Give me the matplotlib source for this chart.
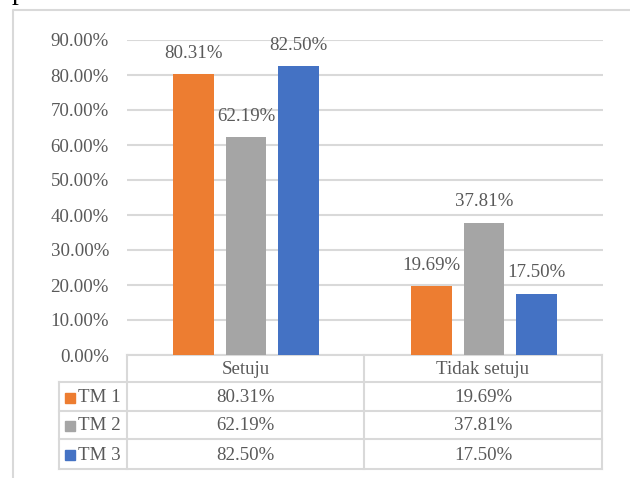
import numpy as np
import matplotlib.pyplot as plt
from matplotlib.patches import Rectangle

plt.rcParams['font.family'] = ['Liberation Serif', 'DejaVu Serif']

# data
kategori = ['Setuju', 'Tidak setuju']
seri = ['TM 1', 'TM 2', 'TM 3']
tm1 = [80.31, 19.69]
tm2 = [62.19, 37.81]
tm3 = [82.50, 17.50]
warna = ['#ED7D31', '#A5A5A5', '#4472C4']
yticks = np.arange(0, 91, 10)

W, H = 630, 478
teks = '#595959'
garis = '#D9D9D9'
fs = 13.6

fig = plt.figure(figsize=(W / 100, H / 100), dpi=100)

# overlay axes in pixel coordinates for the frame and data table
ov = fig.add_axes([0, 0, 1, 1])
ov.set_xlim(0, W)
ov.set_ylim(H, 0)
ov.axis('off')

# main chart axes
x0, x1, ytop, ybot = 127, 603, 40, 355
ax = fig.add_axes([x0 / W, 1 - ybot / H, (x1 - x0) / W, (ybot - ytop) / H])
ax.set_facecolor('none')

x = np.arange(len(kategori))
lebar = 0.172
geser = 0.22
for i, (nilai, c) in enumerate(zip([tm1, tm2, tm3], warna)):
    pos = x + (i - 1) * geser
    ax.bar(pos, nilai, lebar, color=c, zorder=3)
    for px, v in zip(pos, nilai):
        ax.annotate(f'{v:.2f}%', (px, v), xytext=(0, 15), textcoords='offset points',
                    ha='center', va='center', fontsize=fs, color=teks)

ax.set_xlim(-0.5, 1.5)
ax.set_ylim(0, 90)
ax.set_yticks(yticks)
ax.set_yticklabels([f'{t:.2f}%' for t in yticks], fontsize=fs, color=teks)
ax.tick_params(axis='y', length=0, pad=13)
ax.set_xticks([])
ax.grid(axis='y', color=garis, linewidth=1.5, zorder=0)
for s in ax.spines.values():
    s.set_visible(False)

# chart border (cropped: top and left edges visible)
ov.plot([13, 13, W], [H, 9.5, 9.5], color=garis, linewidth=1.5)
# fragment of document text above the chart
ov.text(12, -1.5, 'p', fontsize=20, color='black', ha='left', va='baseline')

# data table
tx = [59, 127, 364, 602]
ty = [355, 382, 411, 439, 469]
lw = 1.5
ov.plot([tx[1], tx[3]], [ty[0], ty[0]], color=garis, lw=lw)
for yy in ty[1:]:
    ov.plot([tx[0], tx[3]], [yy, yy], color=garis, lw=lw)
for xx in tx[1:]:
    ov.plot([xx, xx], [ty[0], ty[4]], color=garis, lw=lw)
ov.plot([tx[0], tx[0]], [ty[1], ty[4]], color=garis, lw=lw)

for j, k in enumerate(kategori):
    ov.text((tx[j + 1] + tx[j + 2]) / 2, (ty[0] + ty[1]) / 2 + 1, k,
            ha='center', va='center', fontsize=fs, color=teks)

for i, (nama, nilai, c) in enumerate(zip(seri, [tm1, tm2, tm3], warna)):
    yc = (ty[i + 1] + ty[i + 2]) / 2 + 1
    ov.add_patch(Rectangle((65, yc - 5), 10, 10, color=c))
    ov.text(78, yc, nama, ha='left', va='center', fontsize=fs, color=teks)
    for j, v in enumerate(nilai):
        ov.text((tx[j + 1] + tx[j + 2]) / 2, yc, f'{v:.2f}%',
                ha='center', va='center', fontsize=fs, color=teks)

fig.savefig('out.png', dpi=100)
